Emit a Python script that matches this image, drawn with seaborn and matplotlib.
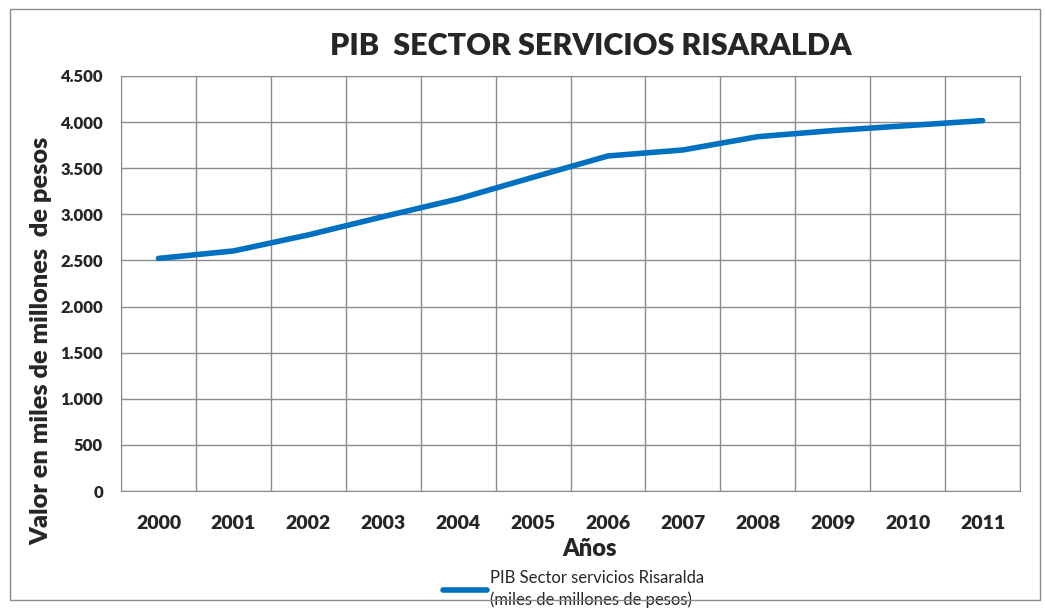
import matplotlib
matplotlib.use("Agg")
import matplotlib.pyplot as plt
import matplotlib.ticker as mticker
from matplotlib.patches import Rectangle
import seaborn as sns
import pandas as pd
import numpy as np

years = ["2000", "2001", "2002", "2003", "2004", "2005",
         "2006", "2007", "2008", "2009", "2010", "2011"]
pib_servicios = [2522, 2603, 2777, 2975, 3167, 3402,
                 3633, 3698, 3842, 3908, 3962, 4016]
y_ticks = [0, 500, 1000, 1500, 2000, 2500, 3000, 3500, 4000, 4500]

serie = "PIB Sector servicios Risaralda\n(miles de millones de pesos)"

sns.set_style("white")
plt.rcParams['font.family'] = ['Lato', 'DejaVu Sans']

df = pd.DataFrame({"pos": np.arange(len(years)), "valor": pib_servicios})

fig = plt.figure(figsize=(10.45, 6.08), dpi=100)
ax = fig.add_axes([0.1158, 0.1924, 0.8603, 0.6826])

sns.lineplot(data=df, x="pos", y="valor", ax=ax, color="#0070C0",
             linewidth=4, label=serie, solid_capstyle="round")

ax.set_xlim(-0.5, len(years) - 0.5)
ax.set_ylim(0, 4500)
ax.set_xticks(np.arange(len(years)))
ax.set_xticklabels(years, fontsize=14, fontweight="heavy")
ax.set_xticks(np.arange(-0.5, len(years), 1), minor=True)
ax.set_yticks(y_ticks)
ax.yaxis.set_major_formatter(mticker.FuncFormatter(lambda v, p: f"{int(v):,}".replace(",", ".")))
for t in ax.get_yticklabels():
    t.set_fontweight("heavy")
    t.set_fontsize(12)
ax.tick_params(axis="x", which="both", length=0, pad=17)
ax.tick_params(axis="y", length=0, pad=13)

ax.grid(True, axis="y", which="major", color="#8c8c8c", linewidth=1)
ax.grid(True, axis="x", which="minor", color="#8c8c8c", linewidth=1)
ax.grid(False, axis="x", which="major")
for s in ax.spines.values():
    s.set_color("#8c8c8c")

ax.set_xlabel("Años", fontsize=17, fontweight="heavy")
ax.xaxis.set_label_coords(0.5217, -0.113)
ax.set_ylabel("Valor en miles de millones  de pesos", fontsize=18.2, fontweight="heavy")
ax.yaxis.set_label_coords(-0.0768, 0.361)
fig.text(0.565, 0.925, "PIB  SECTOR SERVICIOS RISARALDA", ha="center", va="center",
         fontsize=22, fontweight="heavy")

leg = ax.legend(loc="center", bbox_to_anchor=(0.549, 0.031), bbox_transform=fig.transFigure,
                frameon=False, fontsize=12, handlelength=2.6, handletextpad=0.2)
for t in leg.get_texts():
    t.set_linespacing(1.45)

fig.patches.append(Rectangle((0.0096, 0.013), 0.9855, 0.972, transform=fig.transFigure,
                             fill=False, edgecolor="#8c8c8c", linewidth=1))

fig.savefig("out.png", dpi=100)
